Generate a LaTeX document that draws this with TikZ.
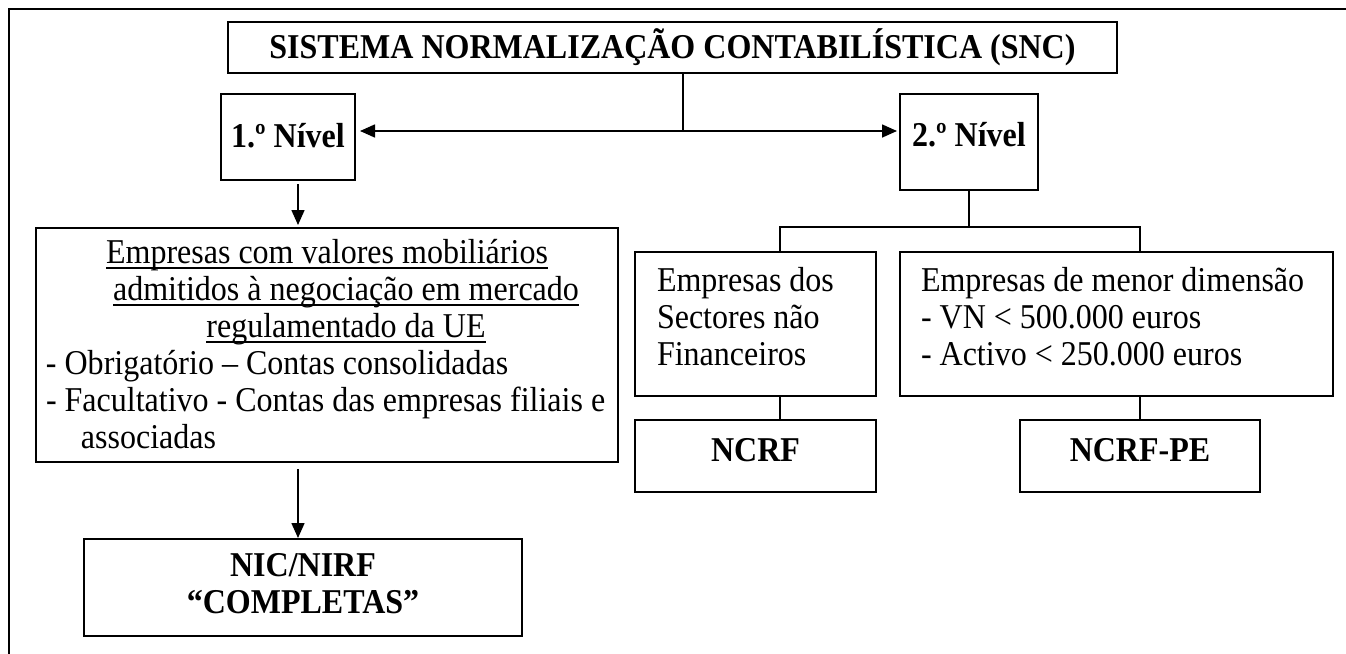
\documentclass[tikz,border=0pt]{standalone}
\usepackage{fontspec}
\setmainfont{Liberation Serif}[FakeStretch=0.92]
\newsavebox\myulbox
\newcommand\myul[1]{\sbox\myulbox{#1}\rlap{\rule[-2.75pt]{\wd\myulbox}{0.75pt}}\usebox\myulbox}
\newcommand\sk{\spaceskip 4pt\relax\xspaceskip 4pt\relax}
\DeclareRobustCommand\mytxtfont{\fontsize{17.4}{18.5}\selectfont}
\usetikzlibrary{arrows.meta}
\begin{document}
\begin{tikzpicture}[x=0.5pt,y=-0.5pt,
  txt/.style={font=\mytxtfont},
  boxed/.style={txt,draw,line width=1pt,anchor=north west,inner xsep=0pt,inner ysep=0pt},
  conn/.style={line width=0.8pt},
  arr/.style={conn,-{Triangle[length=7.5pt,width=6.5pt]}},
  darr/.style={conn,{Triangle[length=7.5pt,width=6.5pt]}-{Triangle[length=7.5pt,width=6.5pt]}},
  frameline/.style={line width=1.2pt}]
\useasboundingbox (0,0) rectangle (1346,654);
% outer frame
\draw[frameline] (9,654) -- (9,9) -- (1346,9);
% title
\node[boxed,text width=444.5pt,align=center,text height=18pt,text depth=7.5pt] (title) at (227,21)
  {\sk\bfseries SISTEMA NORMALIZAÇÃO CONTABILÍSTICA (SNC)};
% levels
\node[boxed,text width=67pt,align=center,text height=26.5pt,text depth=16.5pt] (n1) at (220,93)
  {\sk\bfseries 1.º Nível};
\node[boxed,text width=69pt,align=center,text height=26pt,text depth=22pt] (n2) at (899,93)
  {\sk\bfseries 2.º Nível};
% big left box
\node[boxed,text width=291pt,align=left,text height=17.5pt,text depth=99.5pt] (big) at (35,227)
  {\sk\makebox[291pt][c]{\myul{Empresas com valores mobiliários}}\\
   \makebox[291pt][c]{\hspace{19pt}\myul{admitidos à negociação em mercado}}\\
   \makebox[291pt][c]{\hspace{19pt}\myul{regulamentado da UE}}\\
   \makebox[291pt][l]{\hspace*{5pt}- Obrigatório – Contas consolidadas}\\
   \makebox[291pt][l]{\hspace*{5pt}- Facultativo - Contas das empresas filiais e}\\
   \makebox[291pt][l]{\hspace*{22.5pt}associadas}};
% right branch boxes
\node[boxed,text width=120.5pt,align=left,text height=19.5pt,text depth=52.5pt] (sect) at (634,251)
  {\sk\makebox[120.5pt][l]{\hspace*{11pt}Empresas dos}\\
   \makebox[120.5pt][l]{\hspace*{11pt}Sectores não}\\
   \makebox[120.5pt][l]{\hspace*{11pt}Financeiros}};
\node[boxed,text width=216.5pt,align=left,text height=19.5pt,text depth=52.5pt] (menor) at (899,251)
  {\sk\makebox[216.5pt][l]{\hspace*{10.5pt}Empresas de menor dimensão}\\
   \makebox[216.5pt][l]{\hspace*{10.5pt}- VN < 500.000 euros}\\
   \makebox[216.5pt][l]{\hspace*{10.5pt}- Activo < 250.000 euros}};
\node[boxed,text width=120.5pt,align=center,text height=20.5pt,text depth=15.5pt] (ncrf) at (634,419)
  {\sk\bfseries NCRF};
\node[boxed,text width=120pt,align=center,text height=20.5pt,text depth=15.5pt] (ncrfpe) at (1019,419)
  {\sk\bfseries NCRF-PE};
\node[boxed,text width=219pt,align=center,text height=18.5pt,text depth=30pt] (nic) at (83,538)
  {\sk\bfseries NIC/NIRF\\ \bfseries “COMPLETAS”};
% helper coordinates
\coordinate (jt) at (683,131);
\coordinate (cl) at (298,0);
\coordinate (cs) at (780,227);
\coordinate (cm) at (1140,227);
% connectors
\draw[conn] (title.south -| jt) -- (jt);
\draw[darr,shorten <=2pt,shorten >=1pt] (n1.east |- jt) -- (n2.west |- jt);
\draw[arr,shorten <=1.5pt,shorten >=1pt] (n1.south -| cl) -- (big.north -| cl);
\draw[arr,shorten <=3pt] (big.south -| cl) -- (nic.north -| cl);
\draw[conn] (n2.south) -- (n2.south |- cs);
\draw[conn] (sect.north -| cs) -- (cs) -- (cm) -- (menor.north -| cm);
\draw[conn] (sect.south -| cs) -- (ncrf.north -| cs);
\draw[conn] (menor.south -| cm) -- (ncrfpe.north -| cm);
\end{tikzpicture}
\end{document}
